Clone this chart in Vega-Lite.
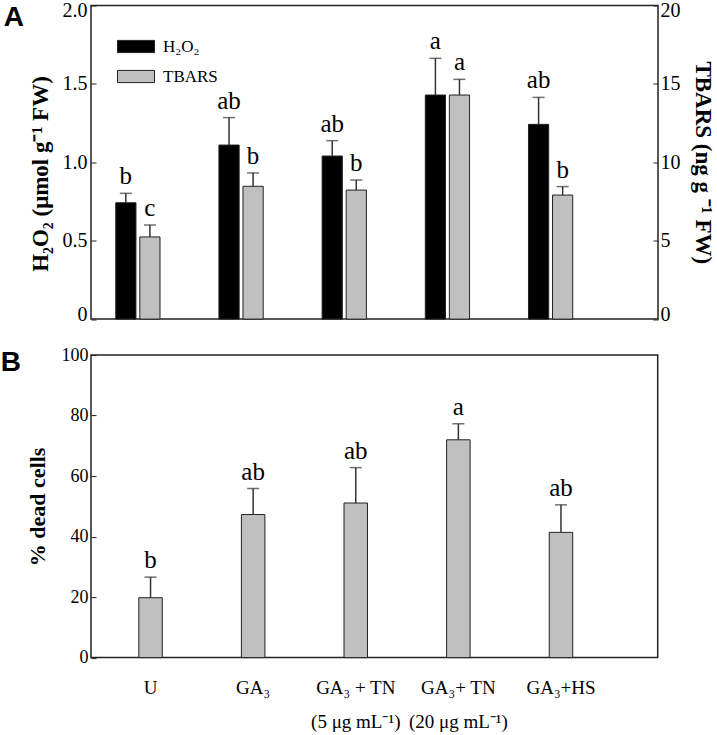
{
  "$schema": "https://vega.github.io/schema/vega-lite/v6.json",
  "autosize": "none",
  "padding": {"left": 91, "top": 5.5, "right": 626, "bottom": 730},
  "config": {
    "font": "Liberation Serif",
    "view": {"stroke": "#222", "strokeWidth": 1.5},
    "axis": {"grid": false, "domain": false, "labelColor": "black", "titleColor": "black", "tickColor": "#222", "labelFont": "Liberation Serif", "titleFont": "Liberation Serif"},
    "legend": {"labelFont": "Liberation Serif"},
    "title": {"color": "black"}
  },
  "datasets": {
    "ros": [
      {"treatment": "U", "series": "H2O2", "value": 0.742, "hi": 0.802, "letter": "b"},
      {"treatment": "U", "series": "TBARS", "value": 5.24, "hi": 6.0, "letter": "c"},
      {"treatment": "GA₃", "series": "H2O2", "value": 1.11, "hi": 1.285, "letter": "ab"},
      {"treatment": "GA₃", "series": "TBARS", "value": 8.47, "hi": 9.32, "letter": "b"},
      {"treatment": "GA₃ + TN|(5 μg mL⁻¹)", "series": "H2O2", "value": 1.04, "hi": 1.138, "letter": "ab"},
      {"treatment": "GA₃ + TN|(5 μg mL⁻¹)", "series": "TBARS", "value": 8.23, "hi": 8.87, "letter": "b"},
      {"treatment": "GA₃+ TN|(20 μg mL⁻¹)", "series": "H2O2", "value": 1.429, "hi": 1.663, "letter": "a"},
      {"treatment": "GA₃+ TN|(20 μg mL⁻¹)", "series": "TBARS", "value": 14.29, "hi": 15.29, "letter": "a"},
      {"treatment": "GA₃+HS", "series": "H2O2", "value": 1.242, "hi": 1.414, "letter": "ab"},
      {"treatment": "GA₃+HS", "series": "TBARS", "value": 7.91, "hi": 8.45, "letter": "b"}
    ],
    "dead": [
      {"treatment": "U", "value": 19.8, "hi": 26.6, "letter": "b"},
      {"treatment": "GA₃", "value": 47.3, "hi": 55.9, "letter": "ab"},
      {"treatment": "GA₃ + TN|(5 μg mL⁻¹)", "value": 51.1, "hi": 62.8, "letter": "ab"},
      {"treatment": "GA₃+ TN|(20 μg mL⁻¹)", "value": 72.0, "hi": 77.3, "letter": "a"},
      {"treatment": "GA₃+HS", "value": 41.4, "hi": 50.5, "letter": "ab"}
    ]
  },
  "bounds": "flush",
  "spacing": 35.6,
  "vconcat": [
    {
      "width": 567,
      "height": 313.6,
      "title": {"text": "A", "orient": "left", "angle": 0, "anchor": "end", "frame": "group", "font": "Liberation Sans", "fontSize": 28, "fontWeight": "bold", "offset": 5, "baseline": "top", "align": "left", "dy": -2},
      "data": {"name": "ros"},
      "encoding": {
        "x": {"field": "treatment", "type": "nominal", "sort": null, "scale": {"paddingInner": 0.571, "paddingOuter": 0.533, "align": 0.225}, "axis": null},
        "xOffset": {"field": "series", "type": "nominal", "sort": ["H2O2", "TBARS"], "scale": {"paddingInner": 0.16, "paddingOuter": 0}}
      },
      "layer": [
        {
          "transform": [{"filter": "datum.series == 'H2O2'"}],
          "encoding": {
            "y": {"field": "value", "type": "quantitative", "scale": {"domain": [0, 2]},
              "axis": {"orient": "left", "title": "H₂O₂ (μmol g⁻¹ FW)", "values": [0, 0.5, 1, 1.5, 2], "labelExpr": "datum.value == 0 ? '0' : format(datum.value, '.1f')", "tickSize": -5, "labelPadding": 9, "labelFontSize": 20, "labelFlush": true, "labelFlushOffset": 5, "titleFontSize": 23, "titleFontWeight": "bold", "titlePadding": 10, "titleY": 168}}
          },
          "layer": [
            {"mark": {"type": "bar", "stroke": "#222", "strokeWidth": 1},
             "encoding": {"color": {"field": "series", "type": "nominal", "scale": {"domain": ["H2O2", "TBARS"], "range": ["#000000", "#c0c0c0"]},
               "legend": {"title": null, "orient": "none", "legendX": 26, "legendY": 22, "labelFontSize": 17, "labelExpr": "datum.label == 'H2O2' ? 'H₂O₂' : datum.label", "symbolType": "M-1,-0.33L1,-0.33L1,0.33L-1,0.33Z", "symbolSize": 1369, "symbolStrokeColor": "#222", "symbolStrokeWidth": 1, "symbolOpacity": 1, "rowPadding": 2, "labelOffset": 8}}}},
            {"mark": {"type": "rule", "color": "#333", "strokeWidth": 1.5}, "encoding": {"y2": {"field": "hi"}}},
            {"mark": {"type": "tick", "color": "#333", "thickness": 1.5, "size": 12, "orient": "horizontal"}, "encoding": {"y": {"field": "hi", "type": "quantitative"}}},
            {"mark": {"type": "text", "baseline": "alphabetic", "dy": -9, "fontSize": 25, "color": "black"}, "encoding": {"y": {"field": "hi", "type": "quantitative"}, "text": {"field": "letter"}}}
          ]
        },
        {
          "transform": [{"filter": "datum.series == 'TBARS'"}],
          "encoding": {
            "y": {"field": "value", "type": "quantitative", "scale": {"domain": [0, 20]},
              "axis": {"orient": "right", "title": "TBARS (ng g ⁻¹ FW)", "values": [0, 5, 10, 15, 20], "tickSize": -5, "labelPadding": 7, "labelFontSize": 20, "labelFlush": true, "labelFlushOffset": 5, "titleFontSize": 23, "titleFontWeight": "bold", "titlePadding": 10}}
          },
          "layer": [
            {"mark": {"type": "bar", "stroke": "#222", "strokeWidth": 1}, "encoding": {"color": {"field": "series", "type": "nominal"}}},
            {"mark": {"type": "rule", "color": "#333", "strokeWidth": 1.5}, "encoding": {"y2": {"field": "hi"}}},
            {"mark": {"type": "tick", "color": "#333", "thickness": 1.5, "size": 12, "orient": "horizontal"}, "encoding": {"y": {"field": "hi", "type": "quantitative"}}},
            {"mark": {"type": "text", "baseline": "alphabetic", "dy": -9, "fontSize": 25, "color": "black"}, "encoding": {"y": {"field": "hi", "type": "quantitative"}, "text": {"field": "letter"}}}
          ]
        }
      ],
      "resolve": {"scale": {"y": "independent"}}
    },
    {
      "width": 566.7,
      "height": 302.5,
      "title": {"text": "B", "orient": "left", "angle": 0, "anchor": "end", "frame": "group", "font": "Liberation Sans", "fontSize": 28, "fontWeight": "bold", "offset": 5, "baseline": "top", "align": "left", "dy": -6.5},
      "data": {"name": "dead"},
      "encoding": {
        "x": {"field": "treatment", "type": "nominal", "sort": null, "scale": {"paddingInner": 0.771, "paddingOuter": 0.647, "align": 0.36},
          "axis": {"title": null, "labelAngle": 0, "ticks": false, "labelPadding": 21, "labelFontSize": 19, "labelLineHeight": 34, "labelExpr": "split(datum.label, '|')"}},
        "y": {"field": "value", "type": "quantitative", "scale": {"domain": [0, 100]},
          "axis": {"title": "% dead cells", "values": [0, 20, 40, 60, 80, 100], "tickSize": -5, "labelPadding": 8, "labelFontSize": 18, "titleFontSize": 22, "titleFontWeight": "bold", "titlePadding": 12}}
      },
      "layer": [
        {"mark": {"type": "bar", "fill": "#c0c0c0", "stroke": "#222", "strokeWidth": 1}},
        {"mark": {"type": "rule", "color": "#333", "strokeWidth": 1.5}, "encoding": {"y2": {"field": "hi"}}},
        {"mark": {"type": "tick", "color": "#333", "thickness": 1.5, "size": 12, "orient": "horizontal"}, "encoding": {"y": {"field": "hi", "type": "quantitative"}}},
        {"mark": {"type": "text", "baseline": "alphabetic", "dy": -9, "fontSize": 25, "color": "black"}, "encoding": {"y": {"field": "hi", "type": "quantitative"}, "text": {"field": "letter"}}}
      ]
    }
  ]
}
